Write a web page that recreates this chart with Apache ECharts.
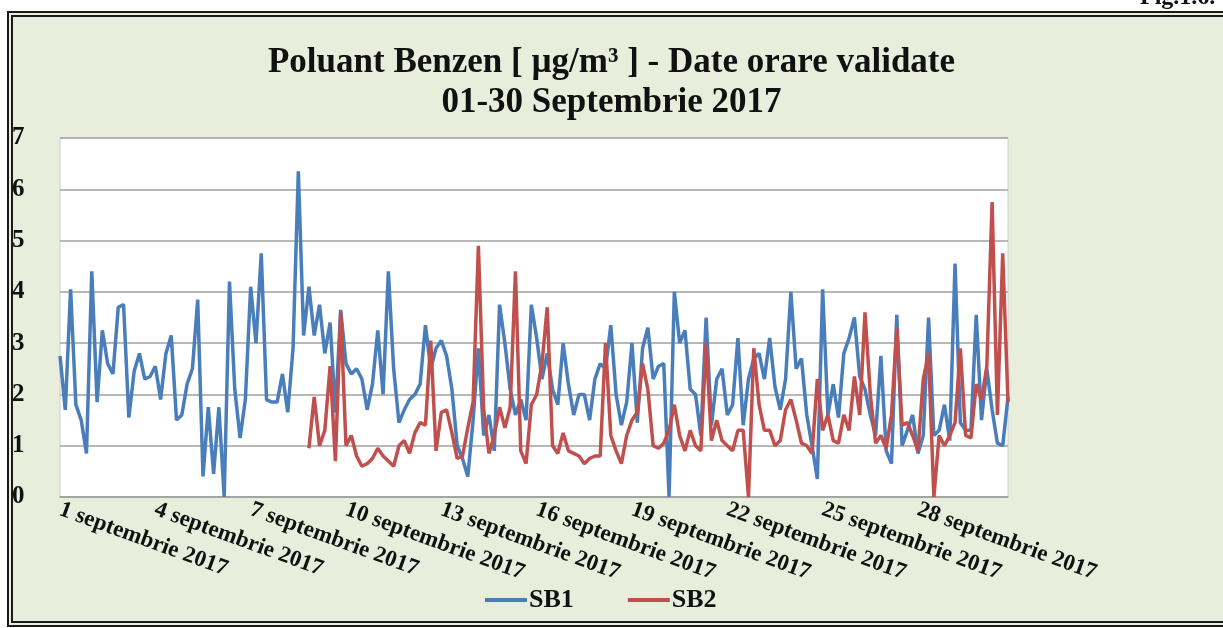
<!DOCTYPE html>
<html>
<head>
<meta charset="utf-8">
<title>Poluant Benzen</title>
<script src="https://cdn.jsdelivr.net/npm/echarts@6/dist/echarts.min.js"></script>
<style>
  html, body { margin: 0; padding: 0; background: #fff; overflow: hidden; }
  #frame {
    position: absolute; left: 7px; top: 11px; width: 1300px; height: 604px;
    border: 6px double #1a1a1a; background: #e8eedb;
  }
  #benzenChart { position: absolute; left: 0; top: 0; width: 1223px; height: 628px; }
</style>
</head>
<body>
<div id="frame"></div>
<div id="benzenChart"></div>
<script>
// zilele lunii (etichete axa x) si orele de esantionare (pas 4 ore)
const dayLabels = [];
for (let d = 1; d <= 30; d++) dayLabels.push(d + " septembrie 2017");
const hours = ["00", "04", "08", "12", "16", "20"];

// SB1 - concentratii benzen [ug/m3]
const sb1 = [
  2.75, 1.7, 4.05, 1.8, 1.5, 0.85, 4.4, 1.85, 3.25, 2.6, 2.4, 3.7, 3.75, 1.55, 2.45, 2.8, 2.3, 2.35,
  2.55, 1.9, 2.8, 3.15, 1.5, 1.6, 2.2, 2.5, 3.85, 0.4, 1.75, 0.45, 1.75, 0.0, 4.2, 2.1, 1.15, 1.9,
  4.1, 3.0, 4.75, 1.9, 1.85, 1.85, 2.4, 1.65, 2.9, 6.35, 3.15, 4.1, 3.15, 3.75, 2.8, 3.4, 1.65, 3.65,
  2.6, 2.4, 2.5, 2.3, 1.7, 2.2, 3.25, 2.0, 4.4, 2.5, 1.45, 1.7, 1.9, 2.0, 2.2, 3.35, 2.5, 2.9,
  3.05, 2.75, 2.1, 1.0, 0.75, 0.4, 1.5, 2.9, 1.2, 1.6, 0.9, 3.75, 3.0, 2.1, 1.6, 1.9, 1.5, 3.75,
  3.1, 2.3, 2.8, 2.1, 1.8, 3.0, 2.2, 1.6, 2.0, 2.0, 1.5, 2.3, 2.6, 2.5, 3.35, 2.0, 1.4, 1.85,
  3.0, 1.45, 2.9, 3.3, 2.3, 2.55, 2.6, 0.0, 4.0, 3.0, 3.25, 2.1, 2.0, 1.2, 3.5, 1.4, 2.3, 2.5,
  1.6, 1.8, 3.1, 1.4, 2.3, 2.7, 2.8, 2.3, 3.1, 2.15, 1.7, 2.3, 4.0, 2.5, 2.7, 1.6, 1.0, 0.35,
  4.05, 1.6, 2.2, 1.55, 2.8, 3.1, 3.5, 2.35, 2.1, 1.6, 1.2, 2.75, 0.9, 0.65, 3.55, 1.0, 1.3, 1.6,
  0.85, 1.2, 3.5, 1.2, 1.3, 1.8, 1.1, 4.55, 1.45, 1.3, 1.3, 3.55, 1.5, 2.5, 1.7, 1.05, 1.0, 1.95
];

// SB2 - fara date pana pe 8 septembrie
const sb2 = [
  null, null, null, null, null, null, null, null, null, null, null, null, null, null, null, null, null, null,
  null, null, null, null, null, null, null, null, null, null, null, null, null, null, null, null, null, null,
  null, null, null, null, null, null, null, null, null, null, null, 0.95, 1.95, 1.0, 1.3, 2.55, 0.7, 3.6,
  1.0, 1.2, 0.8, 0.6, 0.65, 0.75, 0.95, 0.8, 0.7, 0.6, 1.0, 1.1, 0.85, 1.25, 1.45, 1.4, 3.05, 0.9,
  1.65, 1.7, 1.25, 0.75, 0.8, 1.35, 1.85, 4.9, 1.7, 0.85, 1.2, 1.75, 1.35, 1.75, 4.4, 0.9, 0.65, 1.8,
  2.0, 2.6, 3.7, 1.0, 0.85, 1.25, 0.9, 0.85, 0.8, 0.65, 0.75, 0.8, 0.8, 3.0, 1.2, 0.9, 0.65, 1.2,
  1.5, 1.65, 2.6, 2.1, 1.0, 0.95, 1.05, 1.3, 1.8, 1.2, 0.9, 1.3, 1.0, 0.9, 3.0, 1.1, 1.5, 1.1,
  1.0, 0.9, 1.3, 1.3, 0.0, 2.9, 1.8, 1.3, 1.3, 1.0, 1.1, 1.7, 1.9, 1.5, 1.05, 1.0, 0.85, 2.3,
  1.3, 1.6, 1.1, 1.05, 1.6, 1.3, 2.35, 1.6, 3.6, 2.0, 1.05, 1.2, 0.95, 1.6, 3.3, 1.4, 1.45, 1.2,
  0.9, 2.3, 2.8, 0.0, 1.2, 1.0, 1.2, 1.45, 2.9, 1.2, 1.15, 2.2, 1.9, 2.55, 5.75, 1.6, 4.75, 1.85
];

const serif = "'Liberation Serif', 'DejaVu Serif', serif";

// categorii: zi + ora
const categories = [];
dayLabels.forEach(function(day) {
  hours.forEach(function(h) {
    categories.push(day + "|" + h);
  });
});

let myChart = echarts.init(document.getElementById("benzenChart"));

myChart.setOption({
  animation: false,
  backgroundColor: "transparent",
  title: {
    text: "Poluant Benzen [ µg/m³ ] - Date orare validate\n01-30 Septembrie 2017",
    left: "center",
    top: 38,
    textStyle: {
      fontFamily: serif,
      fontWeight: "bold",
      fontSize: 35,
      lineHeight: 40,
      color: "#111"
    }
  },
  graphic: [
    {
      type: "text",
      left: 1140,
      top: -14,
      style: {
        text: "Fig.1.6.",
        font: "bold 24px " + serif,
        fill: "#111"
      }
    }
  ],
  legend: {
    data: [
      { name: "SB1", icon: "rect" },
      { name: "SB2", icon: "rect" }
    ],
    left: 480,
    top: 582,
    itemWidth: 42,
    itemHeight: 4,
    itemGap: 54,
    textStyle: {
      fontFamily: serif,
      fontWeight: "bold",
      fontSize: 26,
      color: "#111",
      padding: [0, 0, 0, -3]
    }
  },
  grid: {
    left: 60,
    right: 215,
    top: 138,
    bottom: 131,
    show: true,
    backgroundColor: "#fff",
    borderColor: "#d0d0d0",
    borderWidth: 1
  },
  xAxis: {
    type: "category",
    data: categories,
    boundaryGap: false,
    axisTick: { show: false },
    axisLine: { lineStyle: { color: "#a0a0a0", width: 1.5 } },
    splitLine: { show: false },
    axisLabel: {
      interval: function(index) {
        return index % 18 === 0;
      },
      rotate: -20,
      margin: 12,
      fontFamily: serif,
      fontWeight: "bold",
      fontSize: 23,
      color: "#111",
      formatter: function(value) {
        return value.split("|")[0];
      }
    }
  },
  yAxis: {
    type: "value",
    min: 0,
    max: 7,
    interval: 1,
    axisLine: { show: false },
    axisTick: { show: false },
    splitLine: { lineStyle: { color: "#a0a0a0", width: 1.5 } },
    axisLabel: {
      align: "left",
      margin: 48,
      fontFamily: serif,
      fontWeight: "bold",
      fontSize: 25,
      color: "#111"
    }
  },
  series: [
    {
      name: "SB1",
      type: "line",
      data: sb1,
      showSymbol: false,
      connectNulls: false,
      itemStyle: { color: "#4a7ebb" },
      lineStyle: { color: "#4a7ebb", width: 3.5 }
    },
    {
      name: "SB2",
      type: "line",
      data: sb2,
      showSymbol: false,
      connectNulls: false,
      itemStyle: { color: "#c0504d" },
      lineStyle: { color: "#c0504d", width: 3.5 }
    }
  ]
});
</script>
</body>
</html>
